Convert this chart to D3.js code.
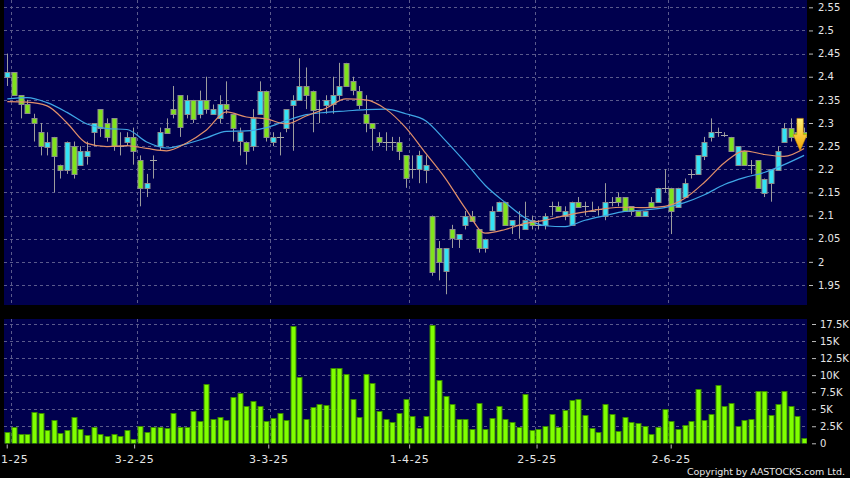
<!DOCTYPE html>
<html><head><meta charset="utf-8">
<script src="https://cdn.jsdelivr.net/npm/d3@7/dist/d3.min.js"></script>
<style>
html,body{margin:0;padding:0;background:#000;}
svg{display:block;}
text{font-family:"DejaVu Sans",Verdana,sans-serif;}
</style></head><body>
<svg id="c" width="850" height="478"></svg>
<script>
// ---- data (index 0 = 31-12-24, last = 30-6-25) ----
const openP  = [2.40,2.41,2.36,2.34,2.31,2.28,2.25,2.27,2.21,2.20,2.25,2.21,2.23,2.28,2.33,2.30,2.31,2.25,2.26,2.27,
  2.22,2.16,2.22,2.25,2.29,2.33,2.36,2.32,2.35,2.32,2.35,2.32,2.31,2.34,2.32,2.26,2.26,2.25,2.32,2.37,
  2.26,2.27,2.29,2.34,2.35,2.38,2.37,2.33,2.34,2.34,2.36,2.43,2.39,2.37,2.32,2.30,2.27,2.26,2.26,2.26,
  2.23,2.20,2.20,2.20,2.10,2.03,1.98,2.07,2.05,2.08,2.10,2.07,2.03,2.07,2.11,2.13,2.08,2.08,2.07,2.09,
  2.08,2.08,2.12,2.12,2.10,2.08,2.13,2.12,2.11,2.115,2.10,2.13,2.14,2.14,2.12,2.11,2.10,2.13,2.13,2.16,
  2.16,2.12,2.14,2.19,2.19,2.23,2.27,2.28,2.275,2.27,2.21,2.24,2.21,2.22,2.15,2.17,2.20,2.26,2.29,2.28,2.28];
const highP  = [2.45,2.41,2.36,2.35,2.32,2.30,2.28,2.27,2.21,2.26,2.26,2.25,2.26,2.30,2.33,2.31,2.31,2.28,2.28,2.29,
  2.23,2.19,2.23,2.29,2.31,2.38,2.36,2.36,2.35,2.37,2.40,2.34,2.36,2.39,2.32,2.29,2.26,2.33,2.39,2.37,
  2.28,2.28,2.33,2.36,2.44,2.42,2.37,2.35,2.36,2.40,2.43,2.43,2.40,2.38,2.36,2.30,2.28,2.28,2.27,2.27,
  2.23,2.23,2.24,2.23,2.10,2.045,2.03,2.08,2.06,2.11,2.11,2.07,2.05,2.12,2.13,2.13,2.09,2.11,2.13,2.10,
  2.09,2.105,2.13,2.13,2.12,2.13,2.14,2.13,2.13,2.12,2.17,2.14,2.15,2.14,2.12,2.11,2.11,2.14,2.16,2.20,
  2.16,2.16,2.18,2.20,2.23,2.27,2.31,2.29,2.28,2.27,2.25,2.24,2.22,2.22,2.18,2.20,2.25,2.30,2.31,2.30,2.29];
const lowP   = [2.38,2.36,2.31,2.32,2.26,2.23,2.23,2.15,2.18,2.19,2.18,2.21,2.21,2.25,2.27,2.26,2.24,2.23,2.25,2.21,
  2.12,2.14,2.18,2.24,2.28,2.31,2.27,2.31,2.30,2.31,2.32,2.32,2.30,2.32,2.26,2.23,2.21,2.24,2.32,2.26,
  2.25,2.23,2.28,2.24,2.35,2.33,2.28,2.30,2.32,2.32,2.35,2.38,2.36,2.33,2.28,2.24,2.25,2.24,2.24,2.22,
  2.16,2.18,2.17,2.17,1.97,1.96,1.93,2.03,2.03,2.07,2.09,2.02,2.02,2.07,2.11,2.08,2.06,2.05,2.07,2.07,
  2.07,2.07,2.10,2.11,2.09,2.08,2.12,2.10,2.11,2.10,2.09,2.12,2.12,2.11,2.10,2.10,2.10,2.12,2.13,2.15,
  2.06,2.12,2.14,2.18,2.19,2.22,2.26,2.27,2.27,2.24,2.21,2.21,2.19,2.16,2.14,2.13,2.20,2.26,2.26,2.26,2.27];
const closeP = [2.41,2.36,2.34,2.32,2.30,2.25,2.26,2.23,2.20,2.26,2.19,2.24,2.24,2.30,2.29,2.27,2.25,2.25,2.27,2.24,
  2.16,2.17,2.22,2.28,2.28,2.32,2.29,2.35,2.31,2.35,2.33,2.33,2.34,2.33,2.29,2.28,2.24,2.31,2.37,2.27,
  2.27,2.27,2.33,2.35,2.38,2.36,2.33,2.33,2.35,2.36,2.38,2.38,2.37,2.34,2.30,2.29,2.26,2.26,2.26,2.24,
  2.18,2.20,2.23,2.21,1.98,2.00,2.03,2.05,2.06,2.10,2.09,2.03,2.05,2.11,2.13,2.08,2.09,2.08,2.09,2.08,
  2.08,2.10,2.12,2.11,2.11,2.13,2.12,2.12,2.11,2.115,2.13,2.13,2.13,2.11,2.11,2.10,2.11,2.12,2.16,2.16,
  2.11,2.16,2.17,2.19,2.23,2.26,2.28,2.28,2.275,2.24,2.25,2.21,2.21,2.16,2.18,2.20,2.24,2.29,2.27,2.27,2.27];
const volumeK = [1.7,2.35,1.3,1.4,4.6,4.5,1.9,3.4,1.5,2.0,3.9,2.05,1.2,2.4,1.4,1.0,1.4,1.1,2.0,0.7,
  2.6,1.7,2.4,2.45,2.3,4.5,2.45,2.4,4.7,3.3,8.7,3.6,3.9,3.4,6.75,7.4,5.4,6.2,5.5,3.2,
  3.7,4.45,3.4,17.2,9.7,3.6,5.3,5.8,5.6,11.1,11.0,10.1,6.45,3.9,10.1,8.8,4.8,3.6,3.1,4.4,
  6.45,4.0,2.3,4.0,17.4,9.3,7.0,5.7,3.5,3.6,2.1,5.9,2.1,3.7,5.4,3.6,3.1,2.4,7.2,2.0,
  2.05,2.6,4.25,2.45,4.9,6.3,6.5,4.2,2.25,1.6,5.8,4.3,1.8,3.8,3.1,3.0,2.5,1.3,2.45,5.0,
  3.2,2.15,2.7,3.3,7.9,3.4,4.3,8.5,5.5,5.9,2.5,3.4,3.6,7.6,7.6,4.2,5.8,7.7,5.5,4.0,0.8];
// moving averages at every 3rd session
const maIndex = d3.range(0, 121, 3);
const ma10 = [2.346,2.345,2.337,2.300,2.256,2.249,2.251,2.245,2.240,2.257,2.285,2.324,2.313,2.309,2.298,2.315,2.332,2.352,2.350,2.330,
  2.290,2.235,2.180,2.115,2.062,2.070,2.083,2.090,2.100,2.108,2.115,2.118,2.117,2.120,2.137,2.172,2.214,2.240,2.232,2.228,2.245];
const ma20 = [2.352,2.355,2.344,2.323,2.298,2.288,2.286,2.259,2.246,2.255,2.268,2.282,2.283,2.290,2.305,2.318,2.323,2.326,2.329,2.330,
  2.320,2.305,2.262,2.215,2.165,2.128,2.095,2.078,2.076,2.090,2.100,2.109,2.112,2.117,2.128,2.145,2.167,2.182,2.193,2.210,2.230];
const monthIdx = [1,20,40,61,80,100];
const monthLabels = ["1-25","3-2-25","3-3-25","1-4-25","2-5-25","2-6-25"];
const priceTicks = [2.55,2.5,2.45,2.4,2.35,2.3,2.25,2.2,2.15,2.1,2.05,2,1.95];
const volTicks = [0,2.5,5,7.5,10,12.5,15,17.5];

// ---- layout ----
const svg = d3.select("#c");
const plotL = 4, plotR = 807;
const pTop = 0, pBot = 305, vTop = 319, vBot = 443.5;
const n = openP.length;
const x  = d3.scaleLinear().domain([0, n-1]).range([7.3, 7.3 + 6.64*(n-1)]);
const xa = d3.scaleLinear().domain([0, n-1]).range([0, 6.707*(n-1)]);
const y  = d3.scaleLinear().domain([1.95, 2.55]).range([285, 7.3]);
const yv = d3.scaleLinear().domain([0, 17.5]).range([443.3, 324]);

svg.append("rect").attr("width",850).attr("height",478).attr("fill","#000");
const navy = "#00004e";
svg.append("rect").attr("x",plotL).attr("y",pTop).attr("width",plotR-plotL).attr("height",pBot-pTop).attr("fill",navy);
svg.append("rect").attr("x",plotL).attr("y",vTop).attr("width",plotR-plotL).attr("height",vBot-vTop).attr("fill",navy);

const defs = svg.append("defs");
defs.append("clipPath").attr("id","cp").append("rect").attr("x",plotL).attr("y",pTop).attr("width",plotR-plotL).attr("height",pBot-pTop);
defs.append("clipPath").attr("id","cv").append("rect").attr("x",plotL).attr("y",vTop).attr("width",plotR-plotL).attr("height",vBot-vTop);
const grad = defs.append("linearGradient").attr("id","ag").attr("x1",0).attr("y1",0).attr("x2",0).attr("y2",1);
grad.append("stop").attr("offset","0%").attr("stop-color","#fff27a");
grad.append("stop").attr("offset","100%").attr("stop-color","#f2a200");

const gridCol = "#5a5a8c";
const g = svg.append("g");
g.selectAll(".hp").data(priceTicks).join("line")
  .attr("x1",plotL).attr("x2",plotR)
  .attr("y1",d=>Math.round(y(d))+0.5).attr("y2",d=>Math.round(y(d))+0.5)
  .attr("stroke",gridCol).attr("stroke-dasharray","3,3");
g.selectAll(".hv").data(volTicks.filter(d=>d>0)).join("line")
  .attr("x1",plotL).attr("x2",plotR)
  .attr("y1",d=>Math.round(yv(d))+0.5).attr("y2",d=>Math.round(yv(d))+0.5)
  .attr("stroke",gridCol).attr("stroke-dasharray","3,3");
monthIdx.forEach(i=>{
  const xx = Math.round(x(i-0.5))+0.5;
  g.append("line").attr("x1",xx).attr("x2",xx).attr("y1",pTop).attr("y2",pBot).attr("stroke",gridCol).attr("stroke-dasharray","3,3");
  g.append("line").attr("x1",xx).attr("x2",xx).attr("y1",vTop).attr("y2",vBot).attr("stroke",gridCol).attr("stroke-dasharray","3,3");
});

// ---- candles ----
const cg = svg.append("g").attr("clip-path","url(#cp)");
const idx = d3.range(n);
const cx = i => Math.round(x(i));
cg.selectAll(".w").data(idx).join("line")
  .attr("x1",i=>cx(i)+0.5).attr("x2",i=>cx(i)+0.5)
  .attr("y1",i=>y(highP[i])).attr("y2",i=>y(lowP[i]))
  .attr("stroke","#9c9c9c").attr("stroke-width",1);
const bodies = idx.filter(i=>Math.abs(openP[i]-closeP[i])>0.003);
const dojis = idx.filter(i=>Math.abs(openP[i]-closeP[i])<=0.003);
cg.selectAll(".b").data(bodies).join("rect")
  .attr("x",i=>cx(i)-2).attr("width",5)
  .attr("y",i=>Math.round(y(Math.max(openP[i],closeP[i])))+0.5)
  .attr("height",i=>Math.max(1,Math.round(Math.abs(y(openP[i])-y(closeP[i])))))
  .attr("fill",i=>closeP[i]>openP[i] ? "#33e3f6" : "#80e31c")
  .attr("stroke","#8d8d8d").attr("stroke-width",1);
cg.selectAll(".d").data(dojis).join("line")
  .attr("x1",i=>cx(i)-3).attr("x2",i=>cx(i)+4)
  .attr("y1",i=>Math.round(y(closeP[i]))+0.5).attr("y2",i=>Math.round(y(closeP[i]))+0.5)
  .attr("stroke","#a8a8a8").attr("stroke-width",1);

// ---- moving averages ----
const maLine = arr => d3.line().x((d,k)=>x(maIndex[k])).y(d=>y(d)).curve(d3.curveMonotoneX)(arr);
cg.append("path").attr("d",maLine(ma20)).attr("fill","none").attr("stroke","#3fa7e6").attr("stroke-width",1.2);
cg.append("path").attr("d",maLine(ma10)).attr("fill","none").attr("stroke","#e2906a").attr("stroke-width",1.2);

// ---- arrow on last session ----
const ax = x(n-1.6), at = y(2.31), ab = y(2.24);
const ah = ab - at;
cg.append("path")
  .attr("d",`M${ax-3.2},${at} L${ax+3.2},${at} L${ax+3.2},${at+ah*0.5} L${ax+7},${at+ah*0.5} L${ax},${ab} L${ax-7},${at+ah*0.5} L${ax-3.2},${at+ah*0.5} Z`)
  .attr("fill","url(#ag)").attr("stroke","#c98a00").attr("stroke-width",0.6);

// ---- volume ----
const vg = svg.append("g").attr("clip-path","url(#cv)");
vg.selectAll(".v").data(idx).join("rect")
  .attr("x",i=>cx(i)-2).attr("width",5)
  .attr("y",i=>Math.round(yv(volumeK[i]))+0.5)
  .attr("height",i=>Math.max(0,443-Math.round(yv(volumeK[i]))))
  .attr("fill","#80ff00").attr("stroke","#3a8a00").attr("stroke-width",1);

// ---- axes ----
const fmtP = d => String(+d.toFixed(2));
const ay = svg.append("g").attr("transform",`translate(${plotR+2},0)`)
  .call(d3.axisRight(y).tickValues(priceTicks).tickFormat(fmtP).tickSize(4).tickPadding(5));
const avy = svg.append("g").attr("transform",`translate(${plotR+5},0)`)
  .call(d3.axisRight(yv).tickValues(volTicks).tickFormat(d=>d===0?"0":(d+"K")).tickSize(4).tickPadding(4));
const axx = svg.append("g").attr("transform",`translate(0,${vBot+1})`)
  .call(d3.axisBottom(xa).tickValues(monthIdx).tickFormat((d,k)=>monthLabels[k]).tickSize(4).tickPadding(7));
[ay,avy,axx].forEach(a=>{
  a.select(".domain").remove();
  a.selectAll(".tick line").attr("stroke","#bbbbbb");
  a.selectAll("text").attr("fill","#e6e6e6").attr("font-family","'DejaVu Sans',Verdana,sans-serif").attr("font-size","10px");
});
axx.selectAll("text").attr("font-size","11px").attr("letter-spacing","0.6px");
// first label sits at the left edge: anchor it at its start so it stays inside the picture
axx.selectAll(".tick").filter((d,k)=>k===0).select("text").attr("text-anchor","start").attr("x",-xa(monthIdx[0])+0.5);

svg.append("text").attr("x",845).attr("y",475).attr("text-anchor","end")
  .attr("fill","#e6e6e6").attr("font-size","9.5px").attr("textLength",158)
  .text("Copyright by AASTOCKS.com Ltd.");
</script>
</body></html>
